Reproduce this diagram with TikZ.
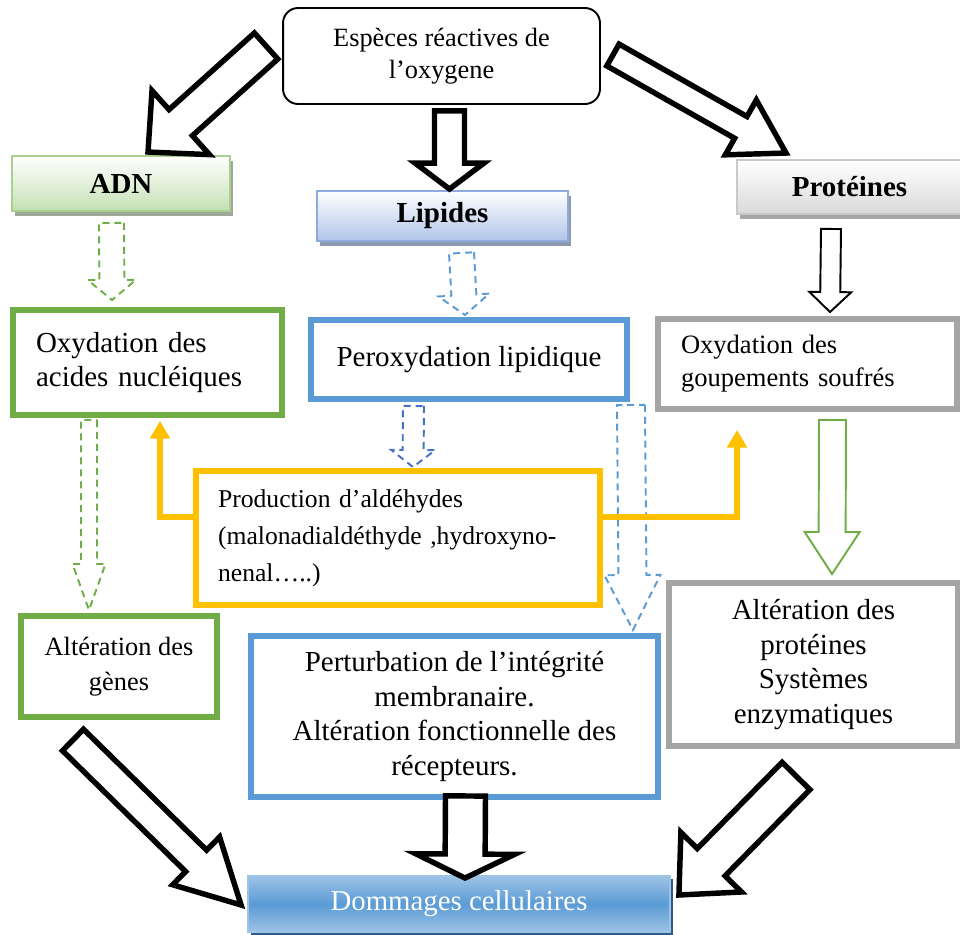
\documentclass[tikz,border=0pt]{standalone}
\usepackage{fontspec}
\setmainfont{Liberation Serif}
\usetikzlibrary{calc,shadows,arrows.meta}
\definecolor{vert}{HTML}{70AD47}
\definecolor{bleu}{HTML}{5B9BD5}
\definecolor{bleufonce}{HTML}{4472C4}
\definecolor{gris}{HTML}{A5A5A5}
\definecolor{jaune}{HTML}{FFC000}
\definecolor{adnline}{HTML}{A9D18E}
\definecolor{adnfill}{HTML}{C5E0B4}
\definecolor{adnshad}{HTML}{9EA898}
\definecolor{lipline}{HTML}{8FAADC}
\definecolor{lipfill}{HTML}{B0C4E8}
\definecolor{lipshad}{HTML}{8D99AE}
\definecolor{proline}{HTML}{C9C9C9}
\definecolor{profill}{HTML}{D9D9D9}
\definecolor{proshad}{HTML}{A6A6A6}
\definecolor{domlight}{HTML}{9DC3E6}
\definecolor{domshad}{HTML}{2E5C8A}
\newcommand\blockarrow[6][]{%
  \coordinate (ba-h) at ($(#3)!#6*0.02cm!(#2)$);
  \draw[#1] ($(#2)!#4*0.02cm!90:(#3)$) -- ($(ba-h)!#4*0.02cm!90:(#3)$)
    -- ($(ba-h)!#5*0.02cm!90:(#3)$) -- (#3) -- ($(ba-h)!#5*0.02cm!-90:(#3)$)
    -- ($(ba-h)!#4*0.02cm!-90:(#3)$) -- ($(#2)!#4*0.02cm!-90:(#3)$) -- cycle;}

\begin{document}
\begin{tikzpicture}[x=0.02cm,y=-0.02cm,
  box/.style={draw,fill=white,line width=3.4pt,inner sep=0pt,align=center,
    font=\fontsize{16.5}{19.8}\selectfont},
  lbox/.style={box,align=left,inner ysep=0pt},
  ttl/.style={draw,line width=1.1pt,inner sep=0pt,font=\fontsize{16.5}{19.8}\selectfont\bfseries},
  big/.style={draw=black,fill=white,line width=3.1pt},
  thin/.style={fill=white,line width=1.1pt},
  tiret/.style={line width=1.1pt,dash pattern=on 4pt off 2.8pt},
  fil/.style={draw=jaune,line width=3.4pt,-{Triangle[width=11pt,length=10pt]},shorten >=1.7pt}]
\useasboundingbox (0,0) rectangle (960,935);

\node[draw,fill=white,line width=1.1pt,rounded corners=0.3cm,minimum width=6.34cm,minimum height=1.92cm,
  align=center,font=\fontsize{15}{18.2}\selectfont] (ros) at (441.5,56) {Espèces réactives de\\l’oxygene};

\node[ttl,draw=adnline,top color=white,bottom color=adnfill,minimum width=4.36cm,minimum height=1.1cm,
  drop shadow={shadow xshift=0.06cm,shadow yshift=-0.1cm,fill=adnshad,opacity=1}] (adn) at (121,183.5) {ADN};
\node[ttl,draw=lipline,top color=white,bottom color=lipfill,minimum width=5.02cm,minimum height=1cm,
  drop shadow={shadow xshift=0.06cm,shadow yshift=-0.1cm,fill=lipshad,opacity=1}] (lip) at (442.5,216) {Lipides};
\node[ttl,draw=proline,top color=white,bottom color=profill,minimum width=4.5cm,minimum height=1.08cm,
  drop shadow={shadow xshift=0.06cm,shadow yshift=-0.1cm,fill=proshad,opacity=1}] (pro) at (849.5,187) {Protéines};

\node[lbox,draw=vert,minimum width=5.38cm,minimum height=2.1cm,inner xsep=0.46cm,text width=4.46cm] (oxa) at (147.5,362.5) {Oxydation des\\acides nucléiques};
\node[box,draw=bleu,minimum width=6.32cm,minimum height=1.58cm] (perox) at (469,359.5) {Peroxydation lipidique};
\node[lbox,draw=gris,minimum width=5.98cm,minimum height=1.8cm,inner xsep=0.46cm,text width=5.06cm,
  font=\fontsize{15.1}{18.7}\selectfont] (oxg) at (807.5,364) {Oxydation des\\goupements soufrés};

\node[lbox,draw=jaune,minimum width=8.08cm,minimum height=2.68cm,inner xsep=0.44cm,text width=7.2cm,
  font=\fontsize{14.6}{21}\selectfont] (prod) at (398,538) {Production d’aldéhydes\\(malonadialdéthyde ,hydroxyno-\\nenal…..)};

\node[box,draw=vert,minimum width=3.92cm,minimum height=2.02cm,font=\fontsize{15}{19.8}\selectfont] (altg) at (119,666.5) {Altération des\\gènes};
\node[box,draw=bleu,minimum width=8.14cm,minimum height=3.22cm] (pert) at (454.5,716.5) {Perturbation de l’intégrité\\membranaire.\\Altération fonctionnelle des\\récepteurs.};
\node[box,draw=gris,minimum width=5.78cm,minimum height=3.26cm] (altp) at (813.5,664.5) {Altération des\\protéines\\Systèmes\\enzymatiques};

\node[draw=domlight,line width=1.1pt,inner sep=0pt,top color=domlight,bottom color=domlight,middle color=bleu,
  minimum width=8.44cm,minimum height=1.12cm,text=white,font=\fontsize{16.4}{19.8}\selectfont,
  drop shadow={shadow xshift=0.06cm,shadow yshift=-0.06cm,fill=domshad,opacity=1}] (dom) at (459,904) {Dommages cellulaires};

\coordinate (a1) at ($(ros.west)+(-16,-10)$);
\coordinate (a2) at ($(adn.north)+(27,-3)$);
\coordinate (b1) at ($(ros.south)+(8,6)$);
\coordinate (b2) at ($(lip.north)+(7,-1)$);
\coordinate (c1) at ($(ros.east)+(12,-1)$);
\coordinate (c2) at ($(pro.north west)+(50,-6)$);
\coordinate (d1) at ($(altg.south)+(-46,20)$);
\coordinate (d2) at ($(dom.west)+(-6,1)$);
\coordinate (e1) at ($(pert.south)+(11,-4)$);
\coordinate (e2) at ($(dom.north)+(6,3)$);
\coordinate (f1) at ($(altp.south)+(-17.5,27)$);
\coordinate (f2) at ($(dom.east)+(8,-9)$);
\blockarrow[big]{a1}{a2}{17.5}{43}{44}
\blockarrow[big]{b1}{b2}{15}{34.5}{26}
\blockarrow[big]{c1}{c2}{12.5}{31.5}{52}
\blockarrow[big]{d1}{d2}{15}{33.5}{63}
\blockarrow[big]{e1}{e2}{20}{49.5}{24}
\blockarrow[big]{f1}{f2}{19.5}{42.5}{46}

\coordinate (g1) at ($(pro.south)+(-18.5,14)$);
\coordinate (g2) at ($(oxg.north)+(22.5,-4)$);
\coordinate (h1) at ($(oxg.south)+(25,8)$);
\coordinate (h2) at ($(altp.north)+(18.5,-6)$);
\blockarrow[thin,draw=black]{g1}{g2}{10}{21}{20}
\blockarrow[thin,draw=vert]{h1}{h2}{13.5}{27.5}{42}

\coordinate (i1) at ($(adn.south)+(-9.5,11)$);
\coordinate (i2) at ($(oxa.north)+(-35.5,-7)$);
\coordinate (j1) at ($(oxa.south)+(-58.5,2)$);
\coordinate (j2) at ($(altg.north)+(-30,-3)$);
\coordinate (k1) at ($(lip.south)+(19,11)$);
\coordinate (k2) at ($(perox.north)+(-4,-2)$);
\coordinate (l1) at ($(perox.south)+(-55.5,4)$);
\coordinate (l2) at ($(prod.north)+(15,-1)$);
\coordinate (m1) at ($(perox.south east)+(1,3)$);
\coordinate (m2) at ($(pert.north east)+(-28,-3)$);
\blockarrow[tiret,draw=vert]{i1}{i2}{12.5}{24}{20}
\blockarrow[tiret,draw=vert]{j1}{j2}{8}{16.5}{46}
\blockarrow[tiret,draw=bleu]{k1}{k2}{12.5}{25.5}{20}
\blockarrow[tiret,draw=bleufonce]{l1}{l2}{10.5}{22}{17}
\blockarrow[tiret,draw=bleu]{m1}{m2}{14}{28}{55}

\coordinate (yr) at ($(oxg.south west)+(82,18)$);
\draw[fil] (prod.west |- 0,517) -| (oxa.south -| 160,0);
\draw[fil,shorten >=0pt] (prod.east |- 0,517) -| (yr);
\end{tikzpicture}
\end{document}
